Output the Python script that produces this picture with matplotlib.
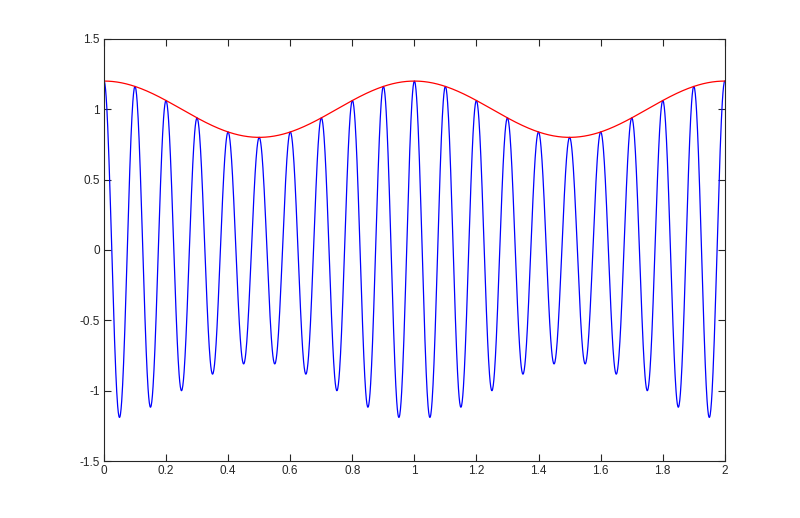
import numpy as np
import matplotlib
matplotlib.use('Agg')
import matplotlib.pyplot as plt

# signal parameters
t_start = 0.0
t_end = 2.0
n_samples = 2001
carrier_freq = 10.0      # peaks every 0.1
envelope_mean = 1.0
envelope_depth = 0.2     # envelope swings 0.8 .. 1.2
envelope_freq = 1.0      # envelope max at 0, 1, 2

t = np.linspace(t_start, t_end, n_samples)
envelope = envelope_mean + envelope_depth * np.cos(2 * np.pi * envelope_freq * t)
signal = envelope * np.cos(2 * np.pi * carrier_freq * t)

xticks = [0, 0.2, 0.4, 0.6, 0.8, 1, 1.2, 1.4, 1.6, 1.8, 2]
yticks = [-1.5, -1, -0.5, 0, 0.5, 1, 1.5]

plt.rcParams['font.family'] = ['Liberation Sans', 'DejaVu Sans']

fig = plt.figure(figsize=(8, 5.18), dpi=100)
ax = fig.add_axes([0.13, 0.11, 0.776, 0.815])

ax.plot(t, signal, c='blue', lw=0.9)
ax.plot(t, envelope, c='red', lw=0.9)

ax.set_xlim(0, 2)
ax.set_ylim(-1.5, 1.5)
ax.set_xticks(xticks)
ax.set_xticklabels([f'{v:g}' for v in xticks])
ax.set_yticks(yticks)
ax.set_yticklabels([f'{v:g}' for v in yticks])
ax.tick_params(direction='in', top=True, right=True, length=5, width=0.8,
               labelsize=8.5, colors='#262626', pad=3)
for s in ax.spines.values():
    s.set_color('#262626')
    s.set_linewidth(0.8)

fig.savefig('out.png', dpi=100)
